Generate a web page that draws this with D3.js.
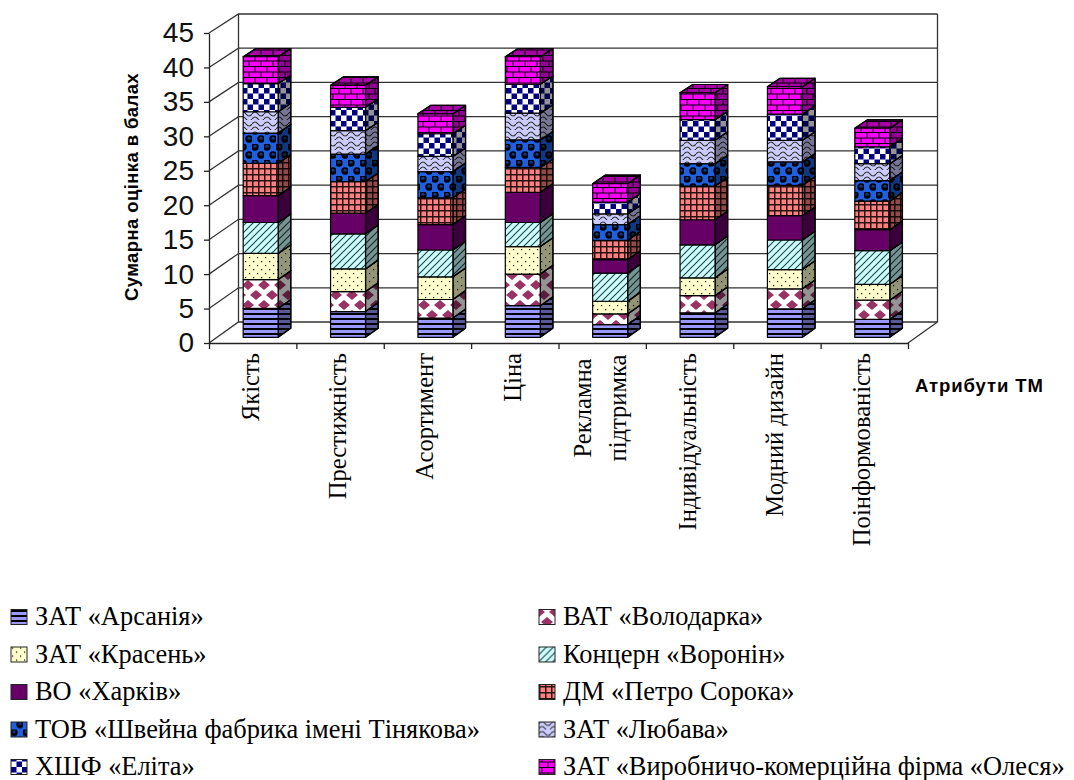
<!DOCTYPE html>
<html>
<head>
<meta charset="utf-8">
<script src="https://cdn.jsdelivr.net/npm/d3@7"></script>
<style>
html, body { margin: 0; padding: 0; background: #fff; }
svg { display: block; }
</style>
</head>
<body>
<div id="chart"></div>
<script>
// Data
const categories = ["Якість", "Престижність", "Асортимент", "Ціна", "Рекламна\nпідтримка", "Індивідуальність", "Модний дизайн", "Поінформованість"];
const firms = ["ЗАТ «Арсанія»", "ВАТ «Володарка»", "ЗАТ «Красень»", "Концерн «Воронін»", "ВО «Харків»", "ДМ «Петро Сорока»", "ТОВ «Швейна фабрика імені Тінякова»", "ЗАТ «Любава»", "ХШФ «Еліта»", "ЗАТ «Виробничо-комерційна фірма «Олеся»"];
const yTicks = [0, 5, 10, 15, 20, 25, 30, 35, 40, 45];

const arsania = [4.2, 3.75, 2.8, 4.6, 1.85, 3.55, 4.15, 2.6];
const volodarka = [4.2, 2.9, 2.7, 4.6, 1.55, 2.5, 2.9, 2.8];
const krasen = [3.8, 3.3, 3.3, 4.0, 1.85, 2.6, 2.8, 2.3];
const voronin = [4.5, 5.1, 3.9, 3.5, 4.1, 4.8, 4.3, 4.9];
const kharkiv = [3.9, 3.0, 3.7, 4.4, 1.95, 3.65, 3.55, 3.05];
const soroka = [4.7, 4.6, 3.9, 3.6, 2.8, 4.9, 4.4, 4.15];
const shveina = [4.4, 4.0, 3.8, 4.0, 2.3, 3.25, 3.4, 3.0];
const lyubava = [3.1, 3.4, 2.2, 3.9, 1.55, 3.4, 3.15, 2.45];
const elita = [4.1, 3.4, 3.3, 4.2, 1.7, 3.0, 3.8, 2.45];
const olesya = [3.9, 3.2, 2.9, 4.0, 2.7, 3.9, 4.0, 2.7];
const series = [arsania, volodarka, krasen, voronin, kharkiv, soroka, shveina, lyubava, elita, olesya];

const width = 1074;
const height = 780;

const svg = d3.select("#chart").append("svg")
    .attr("width", width)
    .attr("height", height);

// Fill patterns, one per firm
const defs = svg.append("defs");

function addPattern(id, w, h, bg, draw) {
    const p = defs.append("pattern")
        .attr("id", id)
        .attr("patternUnits", "userSpaceOnUse")
        .attr("width", w)
        .attr("height", h);
    p.append("rect").attr("width", w).attr("height", h).attr("fill", bg);
    if (draw) draw(p);
}

addPattern("p0", 5, 5, "#9999ff", p => {
    p.append("rect").attr("y", 3).attr("width", 5).attr("height", 2).attr("fill", "#000");
});
addPattern("p1", 16, 20, "#fff", p => {
    p.append("path").attr("d", "M8 0L14 5L8 10L2 5Z M0 10L6 15L0 20L-6 15Z M16 10L22 15L16 20L10 15Z").attr("fill", "#993366");
});
addPattern("p2", 8, 8, "#ffffcc", p => {
    p.append("rect").attr("x", 1).attr("y", 1).attr("width", 1.2).attr("height", 1.2).attr("fill", "#000");
    p.append("rect").attr("x", 5).attr("y", 5).attr("width", 1.2).attr("height", 1.2).attr("fill", "#000");
});
addPattern("p3", 7, 7, "#ccffff", p => {
    p.append("path").attr("d", "M-1 1L1 -1M-1 8L8 -1M6 8L8 6").attr("stroke", "#2a4a4a").attr("stroke-width", 1.2);
});
addPattern("p4", 8, 8, "#660066");
addPattern("p5", 6, 6, "#ff8080", p => {
    p.append("path").attr("d", "M0 0.75H6M0.75 0V6").attr("stroke", "#000").attr("stroke-width", 1.5).attr("opacity", 0.85);
});
addPattern("p6", 12, 16, "#1f5fe0", p => {
    [[3, 3], [9, 11]].forEach(c => {
        p.append("circle").attr("cx", c[0]).attr("cy", c[1]).attr("r", 3.7).attr("fill", "#000");
        p.append("circle").attr("cx", c[0]).attr("cy", c[1] - 0.8).attr("r", 1.5).attr("fill", "#123a90");
    });
});
addPattern("p7", 12, 10, "#ccccff", p => {
    p.append("path").attr("d", "M0 4Q3 0 6 4T12 4").attr("fill", "none").attr("stroke", "#333").attr("stroke-width", 1.2);
    p.append("path").attr("d", "M0 9Q3 5 6 9T12 9").attr("fill", "none").attr("stroke", "#333").attr("stroke-width", 1.2);
});
addPattern("p8", 11, 11, "#fff", p => {
    p.append("rect").attr("width", 5.5).attr("height", 5.5).attr("fill", "#000080");
    p.append("rect").attr("x", 5.5).attr("y", 5.5).attr("width", 5.5).attr("height", 5.5).attr("fill", "#000080");
});
addPattern("p9", 12, 11, "#ff00ff", p => {
    p.append("path").attr("d", "M0 0.5H12M0 6H12M3 0.5V6M9 6V11").attr("stroke", "#000").attr("stroke-width", 1);
});

// Scales: front floor line, and the same values on the back wall
const xBand = d3.scaleBand().domain(categories).range([209, 908]);
const xEdge = d3.scaleLinear().domain([0, categories.length]).range([209, 908]);
const yFront = d3.scaleLinear().domain([0, 45]).range([343, 33]);
const yBack = d3.scaleLinear().domain([0, 45]).range([322, 14]);
const depthX = 29.5;

// d = 0 at the front edge of the floor, d = 1 at the back wall
const py = (v, d) => yFront(v) * (1 - d) + yBack(v) * d;
const line = d3.line();

// Walls and gridlines
const walls = svg.append("g")
    .attr("fill", "none")
    .attr("stroke", "#333")
    .attr("stroke-width", 1.3);

yTicks.forEach(t => {
    walls.append("path").attr("d", line([[xEdge(0), py(t, 0)], [xEdge(0) + depthX, py(t, 1)], [xEdge(8) + depthX, py(t, 1)]]));
});
walls.append("path").attr("d", line([[xEdge(0) + depthX, py(0, 1)], [xEdge(0) + depthX, py(45, 1)]]));
walls.append("path").attr("d", line([[xEdge(8) + depthX, py(0, 1)], [xEdge(8) + depthX, py(45, 1)]]));
walls.append("path").attr("d", line([[xEdge(8), py(0, 0)], [xEdge(8) + depthX, py(0, 1)]]));

// Axes
const yAxis = svg.append("g")
    .attr("transform", `translate(${xEdge(0)},0)`)
    .call(d3.axisLeft(yFront).tickValues(yTicks).tickSize(5).tickSizeOuter(0).tickPadding(10));
yAxis.selectAll("text")
    .style("font-family", "'Liberation Sans', Arial, sans-serif")
    .style("font-size", "28px")
    .attr("fill", "#111");

const xAxis = svg.append("g")
    .attr("transform", `translate(0,${yFront(0)})`)
    .call(d3.axisBottom(xEdge).tickValues(d3.range(categories.length + 1)).tickSize(6).tickSizeOuter(0).tickFormat(""));

svg.selectAll(".domain, .tick line").attr("stroke", "#222").attr("stroke-width", 1.3);

// Stacked 3D bars
const barD0 = 0.27;
const barD1 = 0.70;
const bars = svg.append("g").attr("stroke", "#000").attr("stroke-width", 1.2).attr("stroke-linejoin", "round");

categories.forEach((cat, i) => {
    const barW = xBand.bandwidth() * 0.4;
    const x0 = xBand(cat) + (xBand.bandwidth() - barW) / 2 + barD0 * depthX;
    const x1 = x0 + barW;
    const shift = (barD1 - barD0) * depthX;
    let sum = 0;
    series.forEach((values, s) => {
        const lo = sum;
        const hi = sum + values[i];
        sum = hi;
        const side = [[x1, py(lo, barD0)], [x1 + shift, py(lo, barD1)], [x1 + shift, py(hi, barD1)], [x1, py(hi, barD0)]];
        bars.append("path").attr("d", line(side) + "Z").attr("fill", `url(#p${s})`);
        bars.append("path").attr("d", line(side) + "Z").attr("fill", "#000").attr("fill-opacity", 0.42);
        if (s === series.length - 1) {
            const top = [[x0, py(hi, barD0)], [x0 + shift, py(hi, barD1)], [x1 + shift, py(hi, barD1)], [x1, py(hi, barD0)]];
            bars.append("path").attr("d", line(top) + "Z").attr("fill", `url(#p${s})`);
            bars.append("path").attr("d", line(top) + "Z").attr("fill", "#000").attr("fill-opacity", 0.35);
        }
        bars.append("rect")
            .attr("x", x0)
            .attr("y", py(hi, barD0))
            .attr("width", barW)
            .attr("height", py(lo, barD0) - py(hi, barD0))
            .attr("fill", `url(#p${s})`);
    });
});

// Category labels, rotated
const serif = "'Liberation Serif', 'Times New Roman', serif";
const sans = "'Liberation Sans', Arial, sans-serif";

categories.forEach(cat => {
    const cx = xBand(cat) + xBand.bandwidth() / 2;
    const lines = cat.split("\n");
    lines.forEach((txt, k) => {
        const multi = lines.length > 1;
        const tx = cx + 6 + (multi ? (k - 0.5) * 35 : 0);
        const ty = multi ? 408 : 353;
        svg.append("text")
            .attr("transform", `translate(${tx},${ty}) rotate(-90)`)
            .attr("text-anchor", multi ? "middle" : "end")
            .style("font-family", serif)
            .style("font-size", "24.6px")
            .attr("fill", "#000")
            .text(txt);
    });
});

// Axis titles
svg.append("text")
    .attr("transform", "translate(138,187) rotate(-90)")
    .attr("text-anchor", "middle")
    .style("font-family", sans)
    .style("font-weight", "bold")
    .style("font-size", "18.5px")
    .style("letter-spacing", "0.4px")
    .text("Сумарна оцінка в балах");

svg.append("text")
    .attr("x", 915)
    .attr("y", 392)
    .style("font-family", sans)
    .style("font-weight", "bold")
    .style("font-size", "18.5px")
    .style("letter-spacing", "0.9px")
    .text("Атрибути ТМ");

// Legend, two columns filled row by row
const legendX = d3.scalePoint().domain([0, 1]).range([11, 539]);
const legendY = d3.scalePoint().domain(d3.range(5)).range([617, 767]);

firms.forEach((name, s) => {
    const col = s % 2;
    const row = Math.floor(s / 2);
    const g = svg.append("g").attr("transform", `translate(${legendX(col)},${legendY(row)})`);
    g.append("rect")
        .attr("x", 0)
        .attr("y", -7.5)
        .attr("width", 16)
        .attr("height", 15)
        .attr("fill", `url(#p${s})`)
        .attr("stroke", "#222")
        .attr("stroke-width", 1);
    g.append("text")
        .attr("x", 24)
        .attr("y", 8)
        .style("font-family", serif)
        .style("font-size", "26.4px")
        .attr("fill", "#000")
        .text(name);
});
</script>
</body>
</html>
